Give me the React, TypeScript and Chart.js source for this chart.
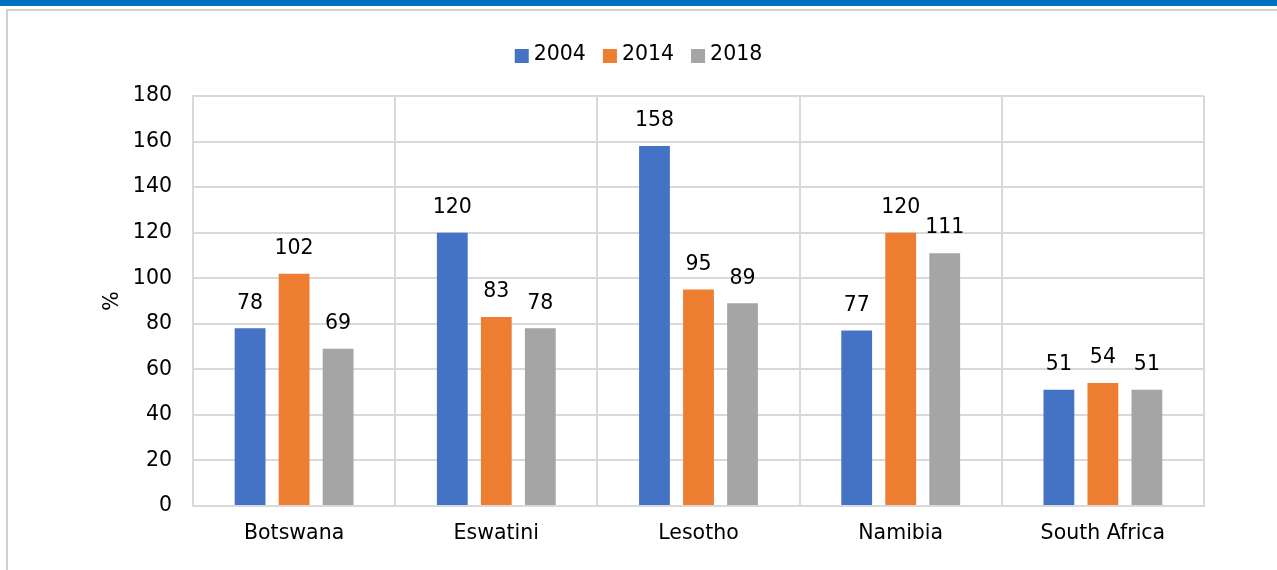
import React, { useEffect, useRef } from 'react';
import { Chart, registerables } from 'chart.js';

Chart.register(...registerables);

const categories = ['Botswana', 'Eswatini', 'Lesotho', 'Namibia', 'South Africa'];
const seriesLabels = ['2004', '2014', '2018'];
const values2004 = [78, 120, 158, 77, 51];
const values2014 = [102, 83, 95, 120, 54];
const values2018 = [69, 78, 89, 111, 51];
const yMin = 0;
const yMax = 180;
const yStep = 20;
const yTitle = '%';

const seriesColors = ['#4472C4', '#ED7D31', '#A5A5A5'];
const FONT = 'DejaVu Sans';
const FS = 20.5;
const TEXT = '#000000';
const GRID = '#D9D9D9';

const legendPlugin = {
  id: 'customLegend',
  afterDraw(chart: any) {
    const ctx = chart.ctx;
    ctx.save();
    ctx.font = `${FS}px "${FONT}"`;
    const box = 14;
    const gap = 5;
    const itemGap = 17;
    const items = chart.data.datasets.map((d: any) => ({
      label: d.label,
      color: d.backgroundColor,
      w: ctx.measureText(d.label).width,
    }));
    const total =
      items.reduce((s: number, it: any) => s + box + gap + it.w, 0) + itemGap * (items.length - 1);
    let x = chart.width / 2 - total / 2;
    const cy = 55;
    ctx.textBaseline = 'middle';
    ctx.textAlign = 'left';
    for (const it of items) {
      ctx.fillStyle = it.color;
      ctx.fillRect(x, cy - box / 2 + 1, box, box);
      x += box + gap;
      ctx.fillStyle = TEXT;
      ctx.fillText(it.label, x, cy);
      x += it.w + itemGap;
    }
    ctx.restore();
  },
};

const dataLabelPlugin = {
  id: 'dataLabels',
  afterDatasetsDraw(chart: any) {
    const ctx = chart.ctx;
    ctx.save();
    ctx.font = `${FS}px "${FONT}"`;
    ctx.fillStyle = TEXT;
    ctx.textAlign = 'center';
    ctx.textBaseline = 'middle';
    chart.data.datasets.forEach((ds: any, i: number) => {
      const meta = chart.getDatasetMeta(i);
      meta.data.forEach((el: any, j: number) => {
        ctx.fillText(String(ds.data[j]), el.x, el.y - 25);
      });
    });
    ctx.restore();
  },
};

export default function App() {
  const canvasRef = useRef<HTMLCanvasElement | null>(null);

  useEffect(() => {
    if (!canvasRef.current) return;
    const seriesValues = [values2004, values2014, values2018];
    const chart = new Chart(canvasRef.current, {
      type: 'bar',
      data: {
        labels: categories,
        datasets: seriesLabels.map((label, i) => ({
          label,
          data: seriesValues[i],
          backgroundColor: seriesColors[i],
          borderWidth: 0,
          categoryPercentage: 0.653,
          barPercentage: 0.7,
        })),
      },
      options: {
        responsive: false,
        animation: false,
        devicePixelRatio: 1,
        layout: { padding: { top: 96, right: 73, bottom: 0, left: 0 } },
        plugins: {
          legend: { display: false },
          tooltip: { enabled: false },
        },
        scales: {
          x: {
            grid: { color: GRID, lineWidth: 2, drawTicks: false, offset: true },
            border: { color: GRID, width: 2 },
            ticks: {
              color: TEXT,
              font: { family: FONT, size: FS },
              padding: 15,
              maxRotation: 0,
            },
            afterFit(scale: any) {
              scale.height = 64;
            },
          },
          y: {
            min: yMin,
            max: yMax,
            grid: { color: GRID, lineWidth: 2, drawTicks: false },
            border: { color: GRID, width: 2 },
            ticks: {
              stepSize: yStep,
              color: TEXT,
              font: { family: FONT, size: FS },
              padding: 21,
            },
            title: {
              display: true,
              text: yTitle,
              color: TEXT,
              font: { family: FONT, size: FS },
              padding: { top: 100, bottom: 0 },
            },
            afterFit(scale: any) {
              scale.width = 193;
            },
          },
        },
      },
      plugins: [legendPlugin, dataLabelPlugin],
    });
    return () => chart.destroy();
  }, []);

  return (
    <div style={{ position: 'absolute', left: 0, top: 0, width: 1277, height: 570, background: '#fff', overflow: 'hidden' }}>
      <div style={{ position: 'absolute', left: 0, top: 0, width: 1277, height: 6, background: '#0070C0' }} />
      <div
        style={{
          position: 'absolute',
          left: 6,
          top: 9,
          width: 1290,
          height: 600,
          borderLeft: '2px solid #CFCFCF',
          borderTop: '2px solid #CFCFCF',
          boxSizing: 'border-box',
        }}
      />
      <canvas
        ref={canvasRef}
        width={1277}
        height={570}
        style={{ position: 'absolute', left: 0, top: 0, width: 1277, height: 570 }}
      />
    </div>
  );
}
